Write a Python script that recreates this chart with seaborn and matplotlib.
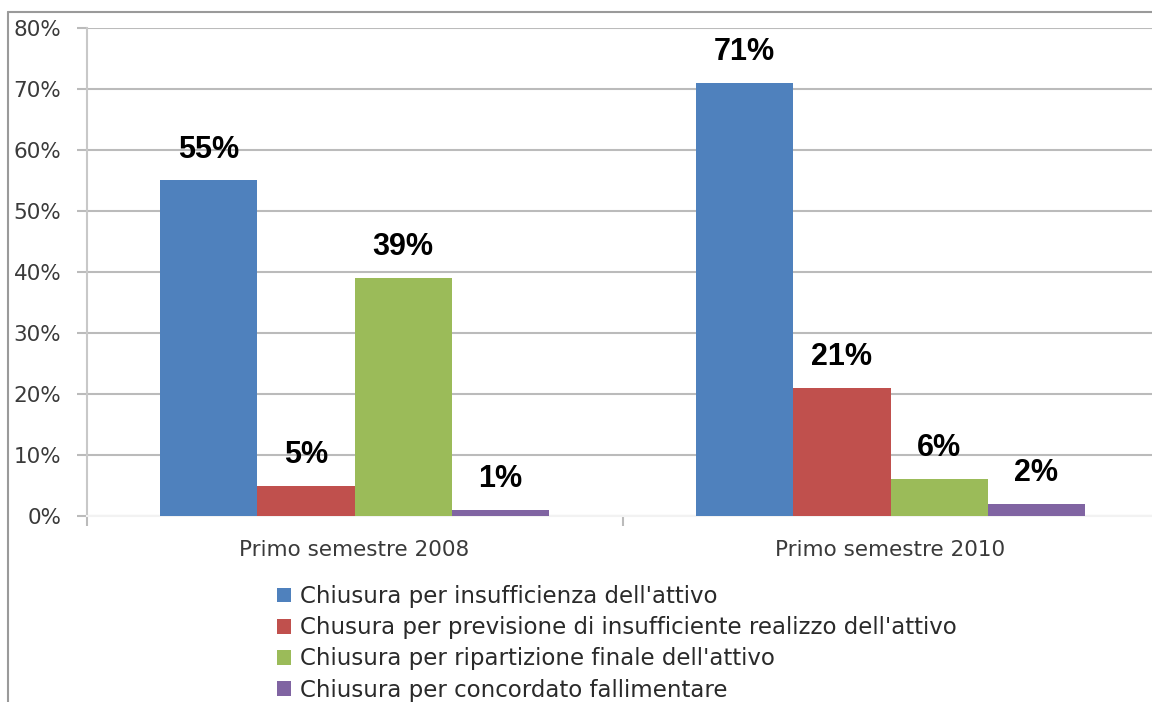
import matplotlib
matplotlib.use("Agg")
import matplotlib.pyplot as plt
from matplotlib.lines import Line2D
from matplotlib.patches import Patch
from matplotlib.ticker import FixedLocator, FuncFormatter
import pandas as pd
import seaborn as sns

# Data: share of bankruptcy closures by type, first half of 2008 vs 2010
periodi = ["Primo semestre 2008", "Primo semestre 2010"]
cause = [
    "Chiusura per insufficienza dell'attivo",
    "Chusura per previsione di insufficiente realizzo dell'attivo",
    "Chiusura per ripartizione finale dell'attivo",
    "Chiusura per concordato fallimentare",
]
valori_2008 = [55, 5, 39, 1]
valori_2010 = [71, 21, 6, 2]
colori = ["#4F81BD", "#C0504D", "#9BBB59", "#8064A2"]
y_ticks = [0, 10, 20, 30, 40, 50, 60, 70, 80]

rows = []
for periodo, valori in zip(periodi, [valori_2008, valori_2010]):
    for causa, v in zip(cause, valori):
        rows.append({"periodo": periodo, "causa": causa, "valore": v})
df = pd.DataFrame(rows)

sns.set_theme(style="white")
plt.rcParams["font.family"] = ["DejaVu Sans"]

fig = plt.figure(figsize=(11.52, 7.02), dpi=100)
ax = fig.add_axes([86.5 / 1152, 186 / 702, 1072 / 1152, 488 / 702])

sns.barplot(
    data=df, x="periodo", y="valore", hue="causa",
    order=periodi, hue_order=cause, palette=colori,
    width=0.725, saturation=1, legend=False, ax=ax, zorder=3,
    linewidth=0, edgecolor="none",
)

# Value labels above each bar
for cont in ax.containers:
    ax.bar_label(
        cont, labels=[f"{v:.0f}%" for v in cont.datavalues], padding=11.5,
        fontsize=22, fontweight="bold", family="Liberation Sans", color="black",
    )

ax.set_xlim(-0.5, 1.5)
ax.set_ylim(0, 80)
ax.yaxis.set_major_locator(FixedLocator(y_ticks))
ax.yaxis.set_major_formatter(FuncFormatter(lambda v, p: f"{v:.0f}%"))
ax.grid(axis="y", color="#BBBBBB", linewidth=1.5, zorder=0)
ax.set_axisbelow(True)

ax.set_xlabel("")
ax.set_ylabel("")
ax.tick_params(axis="y", which="major", length=7.2, width=1.5, color="#BBBBBB",
               labelsize=15.5, labelcolor="#3A3A3A", pad=11, left=True)
ax.set_xticks([0, 1])
ax.set_xticklabels(periodi)
ax.tick_params(axis="x", which="major", length=0, labelsize=15.5,
               labelcolor="#3A3A3A", pad=17)
ax.set_xticks([-0.5, 0.5, 1.5], minor=True)
ax.tick_params(axis="x", which="minor", length=7.5, width=1.5, color="#BBBBBB",
               bottom=True)

for side in ["top", "right"]:
    ax.spines[side].set_visible(False)
ax.spines["left"].set_color("#C8C8C8")
ax.spines["left"].set_linewidth(1.5)
ax.spines["bottom"].set_color("#F2F2F2")
ax.spines["bottom"].set_linewidth(1.5)

# Legend below the plot
handles = [Patch(facecolor=c, edgecolor="none") for c in colori]
fig.legend(
    handles, cause, loc="upper left", bbox_to_anchor=(277 / 1152, 1 - 585 / 702),
    frameon=False, fontsize=16.5, labelcolor="#2A2A2A",
    handlelength=0.62, handleheight=0.62, handletextpad=0.4, labelspacing=0.36,
    borderaxespad=0, borderpad=0,
)

# Outer frame lines of the chart area
fig.add_artist(Line2D([8 / 1152, 8 / 1152], [0, 1 - 12 / 702], transform=fig.transFigure,
                      color="#9A9A9A", linewidth=1.5))
fig.add_artist(Line2D([8 / 1152, 1], [1 - 12 / 702, 1 - 12 / 702], transform=fig.transFigure,
                      color="#9A9A9A", linewidth=1.5))

fig.savefig("out.png", dpi=100, facecolor="white")
